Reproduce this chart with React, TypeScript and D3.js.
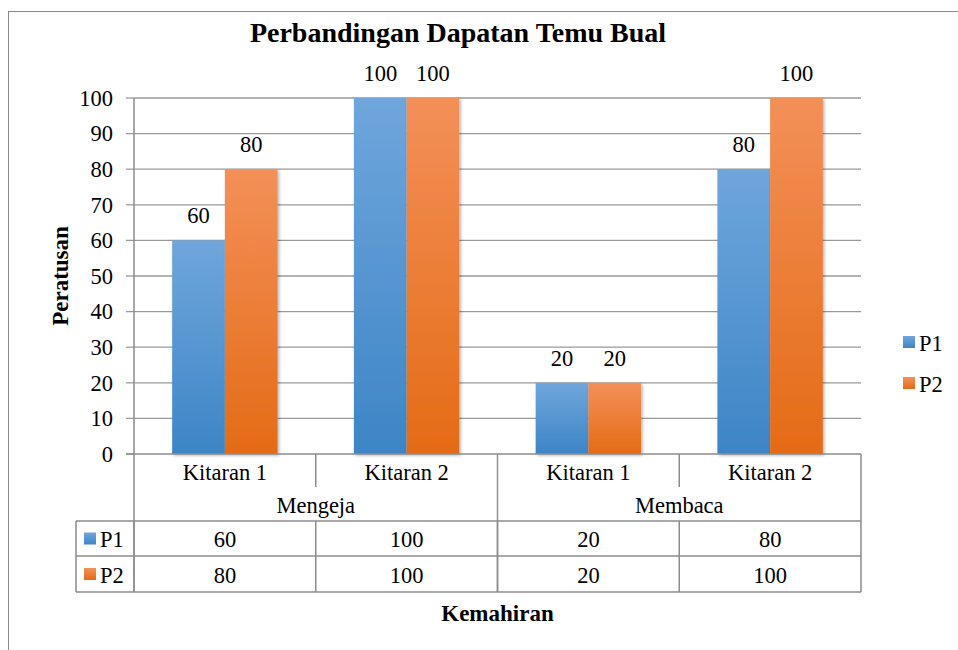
import React from "react";
import * as d3 from "d3";

const categories = ["Kitaran 1", "Kitaran 2", "Kitaran 1", "Kitaran 2"];
const groups = ["Mengeja", "Membaca"];
const seriesNames = ["P1", "P2"];
const p1Values = [60, 100, 20, 80];
const p2Values = [80, 100, 20, 100];
const yTicks = [0, 10, 20, 30, 40, 50, 60, 70, 80, 90, 100];

const W = 958;
const H = 650;
const L = 134;
const R = 861;
const T = 98;
const B = 454;
const FONT = "Times New Roman, Liberation Serif, Tinos, serif";
const GRID = "#9a9a9a";
const TABLE = "#8c8c8c";

export default function App() {
  const y = d3.scaleLinear().domain([0, 100]).range([B, T]);
  const x = d3.scaleBand<number>().domain(d3.range(categories.length)).range([L, R]).paddingInner(0).paddingOuter(0);
  const bw = x.bandwidth();
  const gw = bw * 0.58;
  const xs = d3.scaleBand<string>().domain(seriesNames).range([(bw - gw) / 2, (bw + gw) / 2]).padding(0);
  const series = [p1Values, p2Values];
  const fills = ["url(#gP1)", "url(#gP2)"];

  const row1 = 487;
  const row2 = 521;
  const row3 = 556;
  const row4 = 592;
  const tableLeft = 76;
  const groupX = d3.scaleBand<number>().domain(d3.range(groups.length)).range([L, R]);

  return (
    <svg width={W} height={H} style={{ position: "absolute", left: 0, top: 0, fontFamily: FONT }}>
      <defs>
        <linearGradient id="gP1" x1="0" y1="0" x2="0" y2="1">
          <stop offset="0%" stopColor="#6fa6dc" />
          <stop offset="100%" stopColor="#3d85c6" />
        </linearGradient>
        <linearGradient id="gP2" x1="0" y1="0" x2="0" y2="1">
          <stop offset="0%" stopColor="#f39058" />
          <stop offset="100%" stopColor="#e46b16" />
        </linearGradient>
        <filter id="shadow" x="-20%" y="-5%" width="140%" height="115%">
          <feDropShadow dx="1.5" dy="1.5" stdDeviation="1.8" floodColor="#000" floodOpacity="0.3" />
        </filter>
      </defs>
      <rect x={0} y={0} width={W} height={H} fill="#fff" />
      <rect x={8.5} y={11.5} width={1200} height={1000} fill="none" stroke="#8a8a8a" strokeWidth={1} />

      <text x={458} y={42} textAnchor="middle" fontSize={28} fontWeight="bold">
        Perbandingan Dapatan Temu Bual
      </text>

      {yTicks.map((t) => (
        <g key={t}>
          {t > 0 && <line x1={L} x2={R} y1={y(t)} y2={y(t)} stroke={GRID} strokeWidth={1.3} />}
          <line x1={126} x2={L} y1={y(t)} y2={y(t)} stroke={GRID} strokeWidth={1.3} />
          <text x={113} y={y(t)} dy="0.35em" textAnchor="end" fontSize={22.5}>
            {t}
          </text>
        </g>
      ))}

      {series.map((vals, si) =>
        vals.map((v, ci) => {
          const bx = (x(ci) as number) + (xs(seriesNames[si]) as number);
          return (
            <g key={`${si}-${ci}`}>
              <rect x={bx} y={y(v)} width={xs.bandwidth()} height={B - y(v)} fill={fills[si]} filter="url(#shadow)" />
            </g>
          );
        })
      )}
      {series.map((vals, si) =>
        vals.map((v, ci) => {
          const bx = (x(ci) as number) + (xs(seriesNames[si]) as number);
          return (
            <text key={`l${si}-${ci}`} x={bx + xs.bandwidth() / 2} y={y(v) - 17} textAnchor="middle" fontSize={22.5}>
              {v}
            </text>
          );
        })
      )}

      {/* axes & table */}
      <line x1={L} x2={L} y1={T} y2={row4} stroke={TABLE} strokeWidth={1.5} />
      <line x1={126} x2={R} y1={B} y2={B} stroke={TABLE} strokeWidth={1.5} />
      {categories.map((c, i) => (
        <g key={i}>
          {i > 0 && i !== 2 && (
            <line x1={x(i) as number} x2={x(i) as number} y1={B} y2={row1} stroke={TABLE} strokeWidth={1.5} />
          )}
          <text x={(x(i) as number) + bw / 2} y={(B + row1) / 2 + 2} dy="0.35em" textAnchor="middle" fontSize={22.5}>
            {c}
          </text>
          <line x1={x(i) as number} x2={x(i) as number} y1={row2} y2={row4} stroke={TABLE} strokeWidth={1.5} />
          <text x={(x(i) as number) + bw / 2} y={(row2 + row3) / 2 + 1} dy="0.35em" textAnchor="middle" fontSize={22.5}>
            {p1Values[i]}
          </text>
          <text x={(x(i) as number) + bw / 2} y={(row3 + row4) / 2 + 1} dy="0.35em" textAnchor="middle" fontSize={22.5}>
            {p2Values[i]}
          </text>
        </g>
      ))}
      {groups.map((g, i) => (
        <g key={g}>
          <text x={(groupX(i) as number) + groupX.bandwidth() / 2} y={(row1 + row2) / 2 + 1} dy="0.35em" textAnchor="middle" fontSize={22.5}>
            {g}
          </text>
        </g>
      ))}
      <line x1={x(2) as number} x2={x(2) as number} y1={B} y2={row4} stroke={TABLE} strokeWidth={1.5} />
      <line x1={R} x2={R} y1={B} y2={row4} stroke={TABLE} strokeWidth={1.5} />
      <line x1={tableLeft} x2={tableLeft} y1={row2} y2={row4} stroke={TABLE} strokeWidth={1.5} />
      {[row2, row3, row4].map((ry) => (
        <line key={ry} x1={tableLeft} x2={R} y1={ry} y2={ry} stroke={TABLE} strokeWidth={1.5} />
      ))}
      {seriesNames.map((s, i) => {
        const cy = i === 0 ? (row2 + row3) / 2 : (row3 + row4) / 2;
        return (
          <g key={s}>
            <rect x={84} y={cy - 6} width={12} height={12} fill={fills[i]} />
            <text x={100} y={cy + 1} dy="0.35em" fontSize={22.5}>
              {s}
            </text>
          </g>
        );
      })}

      {/* right legend */}
      {seriesNames.map((s, i) => {
        const cy = 342 + i * 41;
        return (
          <g key={`lg${s}`}>
            <rect x={903} y={cy - 6} width={12} height={12} fill={fills[i]} />
            <text x={919} y={cy + 1} dy="0.35em" fontSize={22.5}>
              {s}
            </text>
          </g>
        );
      })}

      <text
        transform={`translate(68, ${(T + B) / 2}) rotate(-90)`}
        textAnchor="middle"
        fontSize={23}
        fontWeight="bold"
      >
        Peratusan
      </text>
      <text x={(L + R) / 2} y={613} dy="0.35em" textAnchor="middle" fontSize={23} fontWeight="bold">
        Kemahiran
      </text>
    </svg>
  );
}
